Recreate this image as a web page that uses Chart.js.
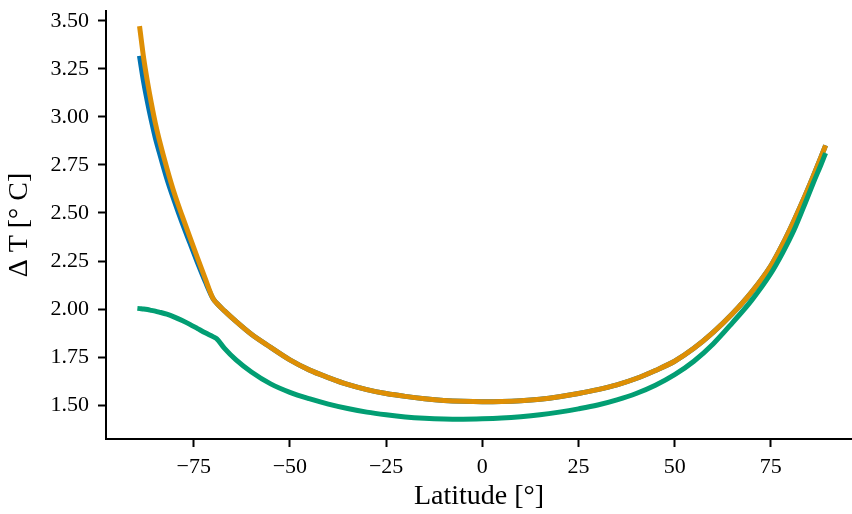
<!DOCTYPE html>
<html>
<head>
<meta charset="utf-8">
<script src="https://cdn.jsdelivr.net/npm/chart.js@4/dist/chart.umd.min.js"></script>
<style>
  html, body { margin: 0; padding: 0; background: #fff; }
  canvas { display: block; }
</style>
</head>
<body>
<canvas id="dtChart" width="852" height="514"></canvas>
<script>
// latitude grid shared by the three curves
var latitudes = [-89, -88, -87, -86, -85, -84, -82, -80, -78, -76, -74, -72, -70, -69, -67, -64, -60, -55, -50, -45,
    -40, -35, -30, -25, -20, -15, -10, -5, 0, 5, 10, 15, 20, 25, 30, 35, 40, 45, 50, 55,
    60, 65, 70, 75, 78, 81, 84, 86, 88, 89];

// warming per latitude, one array per curve
var blueDT = [3.305, 3.18, 3.075, 2.98, 2.893, 2.82, 2.68, 2.56, 2.448, 2.344, 2.241, 2.143, 2.055, 2.03, 1.99, 1.935, 1.868, 1.80, 1.735, 1.683,
    1.643, 1.607, 1.58, 1.56, 1.545, 1.533, 1.524, 1.519, 1.517, 1.518, 1.522, 1.53, 1.543, 1.56, 1.58, 1.605, 1.638, 1.68, 1.728, 1.795,
    1.878, 1.975, 2.088, 2.225, 2.335, 2.46, 2.595, 2.69, 2.79, 2.84];
var orangeDT = [3.46, 3.305, 3.18, 3.07, 2.97, 2.885, 2.735, 2.60, 2.485, 2.374, 2.265, 2.158, 2.055, 2.03, 1.99, 1.935, 1.868, 1.80, 1.735, 1.683,
    1.643, 1.607, 1.58, 1.56, 1.545, 1.533, 1.524, 1.519, 1.517, 1.518, 1.522, 1.53, 1.543, 1.56, 1.58, 1.605, 1.638, 1.68, 1.728, 1.795,
    1.878, 1.975, 2.088, 2.225, 2.335, 2.46, 2.595, 2.69, 2.79, 2.84];
var greenDT = [2.002, 2.0, 1.997, 1.993, 1.989, 1.984, 1.973, 1.958, 1.94, 1.92, 1.898, 1.876, 1.856, 1.845, 1.795, 1.735, 1.672, 1.61, 1.566, 1.533,
    1.505, 1.482, 1.463, 1.449, 1.438, 1.431, 1.427, 1.426, 1.428, 1.432, 1.439, 1.449, 1.463, 1.48, 1.5, 1.527, 1.56, 1.603, 1.658, 1.728,
    1.818, 1.928, 2.045, 2.185, 2.29, 2.41, 2.555, 2.655, 2.75, 2.80];

// tick labels
var xTicks = [-75, -50, -25, 0, 25, 50, 75];
var yTicks = [1.50, 1.75, 2.00, 2.25, 2.50, 2.75, 3.00, 3.25, 3.50];

function toPoints(values) {
    return latitudes.map(function (lat, i) { return { x: lat, y: values[i] }; });
}

function makeLine(values, colour, order) {
    return {
        data: toPoints(values),
        borderColor: colour,
        backgroundColor: colour,
        borderWidth: 5,
        borderCapStyle: 'square',
        pointRadius: 0,
        cubicInterpolationMode: 'monotone',
        order: order
    };
}

var serif = "'Liberation Serif', 'Times New Roman', serif";

var ctx = document.getElementById('dtChart').getContext('2d');
var dtChart = new Chart(ctx, {
    type: 'line',
    data: {
        datasets: [
            makeLine(blueDT, '#0173b2', 3),
            makeLine(orangeDT, '#de8f05', 2),
            makeLine(greenDT, '#029e73', 1)
        ]
    },
    options: {
        responsive: false,
        animation: false,
        devicePixelRatio: 1,
        layout: { padding: { top: 11, right: 0, bottom: 0, left: 0 } },
        plugins: {
            legend: { display: false },
            tooltip: { enabled: false }
        },
        scales: {
            x: {
                type: 'linear',
                min: -97.8,
                max: 96.1,
                afterFit: function (axis) {
                    axis.height = 75;
                    axis.paddingLeft = 0;
                    axis.paddingRight = 0;
                },
                afterBuildTicks: function (axis) {
                    axis.ticks = xTicks.map(function (v) { return { value: v }; });
                },
                grid: {
                    drawOnChartArea: false,
                    drawTicks: true,
                    tickLength: 8,
                    tickWidth: 2,
                    tickColor: '#000'
                },
                border: { display: true, color: '#000', width: 2 },
                ticks: {
                    color: '#000',
                    padding: 7,
                    maxRotation: 0,
                    font: { family: serif, size: 22 },
                    callback: function (v) { return v < 0 ? '\u2212' + Math.abs(v) : String(v); }
                },
                title: {
                    display: true,
                    text: 'Latitude [°]',
                    color: '#000',
                    font: { family: serif, size: 28 },
                    padding: { top: 0, bottom: 1 }
                }
            },
            y: {
                type: 'linear',
                min: 1.323,
                max: 3.552,
                afterFit: function (axis) {
                    axis.width = 106;
                    axis.paddingTop = 0;
                    axis.paddingBottom = 0;
                },
                afterBuildTicks: function (axis) {
                    axis.ticks = yTicks.map(function (v) { return { value: v }; });
                },
                grid: {
                    drawOnChartArea: false,
                    drawTicks: true,
                    tickLength: 8,
                    tickWidth: 2,
                    tickColor: '#000'
                },
                border: { display: true, color: '#000', width: 2 },
                ticks: {
                    color: '#000',
                    padding: 9,
                    font: { family: serif, size: 22 },
                    callback: function (v) { return Number(v).toFixed(2); }
                },
                title: {
                    display: true,
                    text: 'Δ T [° C]',
                    color: '#000',
                    font: { family: serif, size: 28 },
                    padding: { top: 3, bottom: 0 }
                }
            }
        }
    }
});
</script>
</body>
</html>
